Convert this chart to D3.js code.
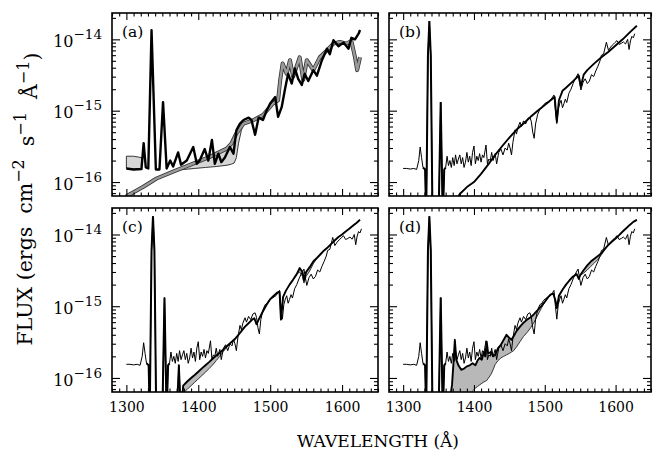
<!DOCTYPE html>
<html>
<head>
<meta charset="utf-8">
<script src="https://cdn.jsdelivr.net/npm/d3@7"></script>
<style>
  body { margin:0; background:#fff; }
  text { font-family:"DejaVu Serif","Liberation Serif",serif; fill:#000; }
</style>
</head>
<body>
<svg id="chart" width="654" height="460"></svg>
<script>
// flux values are in units of 1e-16 ergs cm-2 s-1 A-1

// observed spectrum (thin line, panels b c d)
var obsWave = [1300,1305,1310,1315,1319,1322,1324,1326,1328,1331,
               1332.5,1335,1337,1339,1341.5,1350,1353,1356,1358,1360,
               1362,1364,1366,1368,1370,1372,1374,1376,1378,1380,
               1382,1384,1386,1388,1390,1392,1394,1396,1398,1400,
               1402,1404,1406,1408,1410,1412,1414,1417,1419,1421,
               1423,1425,1427,1430,1432,1435,1438,1441,1444,1447,
               1449,1451,1453,1455,1458,1460,1462,1465,1467,1470,
               1473,1476,1479,1481,1483,1485,1487,1490,1493,1496,
               1498,1501,1504,1508,1511,1513,1515,1517,1519,1521,
               1523,1525,1527,1529,1531,1534,1537,1540,1543,1547,
               1549,1551,1554,1557,1560,1563,1566,1569,1572,1575,
               1578,1580,1583,1587,1590,1593,1596,1599,1602,1605,
               1608,1611,1614,1617,1619,1621,1623,1625,1627];
var obsFlux = [1.55,1.55,1.52,1.55,1.5,2.0,3.1,2.2,1.6,1.5,
               0.3,60,180,60,0.3,0.3,13.2,0.3,1.5,1.6,
               2.3,1.7,2.0,1.6,2.2,1.7,2.4,1.8,2.1,2.4,
               1.8,2.2,1.6,1.9,2.6,1.9,2.3,1.7,2.6,3.2,
               1.8,2.3,2.0,2.5,1.9,2.4,2.2,3.3,1.8,2.1,
               2.0,2.6,2.0,2.5,1.8,2.6,2.9,2.4,3.0,2.8,
               3.5,3.0,2.4,3.6,5.4,4.7,5.8,6.9,6.0,7.2,
               6.5,7.8,8.1,7.0,5.0,4.1,6.5,8.9,10.5,11.0,
               12.0,12.8,13.2,14.0,15.5,16.6,10.0,6.6,10.5,12.5,
               14.0,11.0,12.5,14.5,13.0,17.5,20.0,24.0,28.0,33.0,
               25.0,19.5,25.0,28.0,24.0,26.0,32.0,30.0,36.0,42.0,
               50.0,60.0,62.0,91.0,70.0,78.0,84.0,90.0,96.0,85.0,
               88.0,92.0,86.0,100.0,72.0,95.0,110.0,105.0,120.0];

// panel (a): low resolution spectrum (black) and model (grey)
var aBlackWave = [1300,1310,1321,1324,1327,1330.5,1335,1341,1346,1351,
                  1356,1361,1365,1372,1376,1384,1393,1398,1402,1409,
                  1414,1419,1423,1428,1432,1437,1444,1449,1453,1458,
                  1463,1470,1474,1479,1484,1490,1495,1500,1507,1511,
                  1516,1521,1525,1530,1534.5,1539,1544,1548,1553,1560,
                  1565,1572,1579,1583,1588,1595,1602,1609,1613,1618,
                  1623,1625];
var aBlackFlux = [1.55,1.5,1.52,3.5,1.6,1.55,134,1.5,1.5,13.2,
                  1.55,2.0,1.65,2.6,1.75,2.0,3.1,1.8,2.0,2.9,
                  2.0,3.9,1.8,2.5,1.9,2.2,3.1,2.5,5.3,6.6,
                  7.4,8.0,7.4,4.6,8.0,7.4,10.0,12.6,15.5,8.2,
                  11.2,21,33,24,39,28,23,33,26,37,
                  31,51,74,62,97,80,90,74,105,100,
                  120,135];
var aGrayWave = [1299,1301,1310,1323.6,1342,1365,1388.5,1416,1439.5,1446,
                 1453,1463,1477,1490,1504,1511,1514,1517.4,1523,1527.5,
                 1532,1541,1546,1551,1560,1569,1579,1588,1597,1606,
                 1613,1618,1621,1625];
var aGrayFlux = [0.6,0.64,0.72,0.86,1.12,1.40,1.74,2.25,2.94,3.45,
                 4.8,6.6,7.4,8.7,12.6,14,27,46,33,51,
                 30,56,27,51,37,56,70,87,92,87,
                 95,56,37,56];
var aBand1Wave = [1300,1310,1321];
var aBand1Low  = [1.55,1.52,1.52];
var aBand1High = [2.3,2.3,2.2];
var aBand2Wave = [1368,1380,1395,1410,1425,1440,1446,1450,1453,1456,1460,1463];
var aBand2Low  = [1.45,1.5,1.55,1.6,1.65,1.72,1.78,1.85,2.2,3.5,5.3,6.6];
var aBand2High = [1.45,1.65,1.9,2.15,2.5,2.95,3.45,4.1,4.8,5.5,6.1,6.6];

// panel (b): model
var bWave = [1372,1380,1390,1400,1410,1420,1430,1440,1450,1460,
             1470,1480,1490,1500,1510,1514,1517,1520,1525,1530,
             1540,1548,1551,1555,1560,1570,1580,1590,1600,1610,
             1620,1630];
var bFlux = [0.5,0.68,0.85,1.0,1.3,1.75,2.4,3.2,4.2,5.4,
             6.6,8.2,10,12,14.5,15.5,7.0,14,19,21,
             26,31,22,32,37,46,56,67,82,100,
             125,155];

// panel (c): model range
var cWave = [1368,1370,1373,1376,1379,1385,1390,1395,1400,1405,
             1410,1415,1420,1425,1430,1435,1440,1445,1450,1455,
             1460,1465,1470,1475,1478,1481,1484,1490,1495,1500,
             1505,1510,1513,1515,1518,1522,1527,1532,1537,1541,
             1545,1547,1550,1555,1560,1565,1570,1575,1580,1585,
             1590,1595,1600,1605,1610,1615,1620,1625];
var cHigh = [0.3,0.3,1.5,0.3,0.78,0.9,1.0,1.1,1.22,1.36,
             1.5,1.66,1.85,2.05,2.25,2.5,2.8,3.1,3.4,3.9,
             4.5,5.2,5.8,6.5,6.8,5.6,6.5,8.5,10.5,12.5,
             14,15.5,16,6.5,13.5,16.5,20,23.5,28,34,
             30,23,30,35,42,47,53,60,66,74,
             83,92,100,110,120,132,145,160];
var cLow  = [0.3,0.3,1.5,0.3,0.62,0.7,0.78,0.87,0.97,1.08,
             1.2,1.35,1.52,1.75,2.0,2.35,2.7,3.1,3.4,3.9,
             4.5,5.2,5.8,6.5,6.8,5.6,6.5,8.5,10.5,12.5,
             14,15.5,16,6.5,13.5,16.5,20,23.5,28,30,
             26,21,26,31,39,47,53,60,66,74,
             83,92,100,110,120,132,145,160];

// panel (d): model range
var dWave = [1364,1366,1369,1371,1373,1375,1378,1382,1386,1390,
             1394,1398,1402,1405,1408,1411,1414,1416,1418,1420,
             1424,1427,1430,1434,1438,1442,1446,1450,1453,1456,
             1460,1465,1470,1475,1480,1485,1490,1495,1500,1505,
             1508,1512,1515,1517,1520,1525,1530,1535,1540,1545,
             1548,1550,1555,1560,1565,1570,1575,1580,1585,1590,
             1595,1600,1605,1610,1615,1620,1625,1630];
var dHigh = [0.3,0.5,0.8,1.6,3.4,1.8,1.5,1.3,1.35,1.45,
             1.5,1.6,1.5,1.75,1.9,1.8,2.3,2.0,3.2,2.2,
             2.3,2.0,2.1,2.6,2.9,3.4,4.0,3.6,3.4,3.8,
             4.5,5.2,5.9,6.5,7.0,7.8,8.8,10,11.5,13.5,
             14.5,15,12,9.4,14,17,20,23,26,28,
             24,27,32,37,42,46,50,55,63,72,
             80,88,98,110,122,136,150,160];
var dLow  = [0.3,0.3,0.3,0.3,0.3,0.3,0.3,0.3,0.35,0.45,
             0.55,0.66,0.72,0.76,0.8,0.84,0.88,0.9,0.92,0.98,
             1.12,1.3,1.55,1.75,1.9,2.0,2.1,2.2,2.3,2.4,
             2.7,3.2,3.8,4.3,5.0,6.0,7.5,9.3,11.5,13.5,
             14.5,15,12,9.4,14,17,20,23,26,28,
             24,27,29,32,36,40,45,52,63,72,
             80,88,98,110,122,136,150,160];

var xMajor = [1300,1400,1500,1600];
var panelNames = ["(a)","(b)","(c)","(d)"];

var svg = d3.select("#chart");
var colX = [[112,378],[389,651]];
var rowY = [[13,196],[208,392]];

function pts(w, f) { return d3.zip(w, f); }

panelNames.forEach(function(name, i)
{
  var col = i % 2, row = Math.floor(i / 2);
  var W = colX[col][1] - colX[col][0], H = rowY[row][1] - rowY[row][0];
  var g = svg.append("g").attr("transform", "translate(" + colX[col][0] + "," + rowY[row][0] + ")");
  var x = d3.scaleLinear().domain([1280, 1650]).range([0, W]);
  var y = d3.scaleLog().domain([0.637, 234]).range([H, 0]);

  g.append("clipPath").attr("id", "clip" + i).append("rect").attr("width", W).attr("height", H);
  var plot = g.append("g").attr("clip-path", "url(#clip" + i + ")");

  var line = d3.line().x(function(d){ return x(d[0]); }).y(function(d){ return y(d[1]); });
  var band = d3.area().x(function(d){ return x(d[0]); })
      .y0(function(d){ return y(d[1]); }).y1(function(d){ return y(d[2]); });

  if (i == 0)
  {
    var b1 = d3.zip(aBand1Wave, aBand1Low, aBand1High);
    var b2 = d3.zip(aBand2Wave, aBand2Low, aBand2High);
    plot.append("path").attr("d", band(b1)).attr("fill", "#d6d6d6").attr("stroke", "#222").attr("stroke-width", 0.9);
    plot.append("path").attr("d", band(b2)).attr("fill", "#d6d6d6").attr("stroke", "#222").attr("stroke-width", 0.9);
    plot.append("path").attr("d", line(pts(aGrayWave, aGrayFlux)))
        .attr("fill", "none").attr("stroke", "#333").attr("stroke-width", 4).attr("stroke-linejoin", "round");
    plot.append("path").attr("d", line(pts(aGrayWave, aGrayFlux)))
        .attr("fill", "none").attr("stroke", "#9a9a9a").attr("stroke-width", 2.4).attr("stroke-linejoin", "round");
    plot.append("path").attr("d", line(pts(aBlackWave, aBlackFlux)))
        .attr("fill", "none").attr("stroke", "#000").attr("stroke-width", 2.4).attr("stroke-linejoin", "round");
  }
  else
  {
    if (i == 2 || i == 3)
    {
      var lo = i == 2 ? cLow : dLow, hi = i == 2 ? cHigh : dHigh, wv = i == 2 ? cWave : dWave;
      plot.append("path").attr("d", band(d3.zip(wv, lo, hi))).attr("fill", "#b8b8b8").attr("stroke", "none");
      plot.append("path").attr("d", line(pts(wv, lo)))
          .attr("fill", "none").attr("stroke", "#222").attr("stroke-width", 0.9);
    }
    var obs = pts(obsWave, obsFlux);
    plot.append("path").attr("d", line(obs))
        .attr("fill", "none").attr("stroke", "#000").attr("stroke-width", 1);
    plot.append("path").attr("d", line(obs.filter(function(d){ return d[0] >= 1328 && d[0] <= 1360; })))
        .attr("fill", "none").attr("stroke", "#000").attr("stroke-width", 2);
    var model = i == 1 ? pts(bWave, bFlux) : (i == 2 ? pts(cWave, cHigh) : pts(dWave, dHigh));
    plot.append("path").attr("d", line(model))
        .attr("fill", "none").attr("stroke", "#000").attr("stroke-width", 1.9).attr("stroke-linejoin", "round");
  }

  // ticks on all four sides, pointing inwards
  var xMinor = d3.range(1280, 1651, 10).filter(function(v){ return xMajor.indexOf(v) < 0; });
  var yAll = y.ticks();
  var yMajor = yAll.filter(function(v){ return Math.abs(Math.log10(v) - Math.round(Math.log10(v))) < 1e-6; });
  var yMinor = yAll.filter(function(v){ return yMajor.indexOf(v) < 0; });

  var axes = g.append("g").attr("class", "axes");
  axes.append("g").attr("transform", "translate(0," + H + ")")
      .call(d3.axisBottom(x).tickValues(xMinor).tickSize(-3.5).tickFormat(""));
  var xb = axes.append("g").attr("transform", "translate(0," + H + ")")
      .call(d3.axisBottom(x).tickValues(xMajor).tickSize(-7).tickPadding(10)
            .tickFormat(row == 1 ? d3.format("d") : ""));
  xb.selectAll("text").attr("font-size", 14).attr("font-family", "DejaVu Serif");
  axes.append("g").call(d3.axisTop(x).tickValues(xMinor).tickSize(-3.5).tickFormat(""));
  axes.append("g").call(d3.axisTop(x).tickValues(xMajor).tickSize(-7).tickFormat(""));

  axes.append("g").call(d3.axisLeft(y).tickValues(yMinor).tickSize(-4).tickFormat(""));
  var yl = axes.append("g").call(d3.axisLeft(y).tickValues(yMajor).tickSize(-8).tickPadding(10).tickFormat(""));
  axes.append("g").attr("transform", "translate(" + W + ",0)")
      .call(d3.axisRight(y).tickValues(yMinor).tickSize(-4).tickFormat(""));
  axes.append("g").attr("transform", "translate(" + W + ",0)")
      .call(d3.axisRight(y).tickValues(yMajor).tickSize(-8).tickFormat(""));
  axes.selectAll(".domain").remove();
  axes.selectAll(".tick line").attr("stroke", "#000").attr("stroke-width", 1.1);

  if (col == 0)
  {
    yl.selectAll(".tick text").each(function(d)
    {
      var t = d3.select(this).attr("font-size", 16).attr("font-family", "DejaVu Serif").attr("dy", "0.45em");
      t.append("tspan").text("10");
      t.append("tspan").attr("dy", "-0.6em").attr("font-size", 13.5)
       .text("\u2212" + (16 - Math.round(Math.log10(d))));
    });
  }

  g.append("rect").attr("width", W).attr("height", H)
      .attr("fill", "none").attr("stroke", "#000").attr("stroke-width", 1.6);
  g.append("text").attr("x", 10).attr("y", 24).attr("font-size", 15.5).text(name);
});

// axis titles
svg.append("text").attr("x", 378).attr("y", 447).attr("text-anchor", "middle")
   .attr("font-size", 17).text("WAVELENGTH (\u00c5)");

var yt = svg.append("text").attr("transform", "translate(32,199) rotate(-90)")
   .attr("text-anchor", "middle").attr("font-size", 20.5);
yt.append("tspan").text("FLUX (ergs\u00a0\u00a0cm");
yt.append("tspan").attr("dy", "-0.5em").attr("font-size", 16).text("\u22122");
yt.append("tspan").attr("dy", "0.5em").text("\u00a0\u00a0s");
yt.append("tspan").attr("dy", "-0.5em").attr("font-size", 16).text("\u22121");
yt.append("tspan").attr("dy", "0.5em").text("\u00a0\u00a0\u00c5");
yt.append("tspan").attr("dy", "-0.5em").attr("font-size", 16).text("\u22121");
yt.append("tspan").attr("dy", "0.5em").text(")");
</script>
</body>
</html>
